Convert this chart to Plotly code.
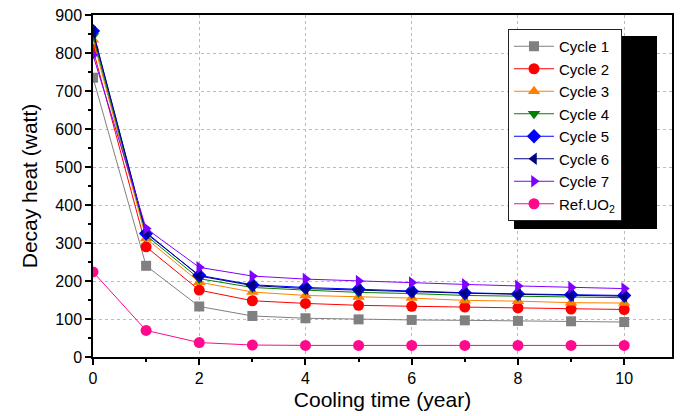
import plotly.graph_objects as go

years = [0, 1, 2, 3, 4, 5, 6, 7, 8, 9, 10]
cycle1 = [735, 240, 133, 108, 102, 99, 97.5, 96.5, 95, 94, 92]
cycle2 = [810, 290, 176, 148, 141, 136, 133.5, 131.5, 129, 126, 125]
cycle3 = [835, 312, 197, 171, 162, 158, 155, 149, 147, 143, 142]
cycle4 = [845, 320, 206, 183, 176, 170, 167, 162, 160, 158, 156]
cycle5 = [858, 325, 215, 190, 183, 178, 173, 169, 166, 164, 162]
cycle6 = [855, 328, 213, 188, 180, 176, 171, 168, 165, 162, 160]
cycle7 = [795, 338, 236, 213, 205, 200, 196, 191, 187, 183, 180]
ref_uo2 = [224, 70, 38, 31.5, 30.5, 30.5, 30.5, 30.5, 30.5, 30.5, 30.5]

names = ["Cycle 1", "Cycle 2", "Cycle 3", "Cycle 4", "Cycle 5", "Cycle 6", "Cycle 7", "Ref.UO<sub>2</sub>"]
series = [cycle1, cycle2, cycle3, cycle4, cycle5, cycle6, cycle7, ref_uo2]
colors = ["#808080", "#FF0000", "#FF8000", "#008000", "#0000FF", "#000080", "#8000FF", "#FF0A8C"]
symbols = ["square", "circle", "triangle-up", "triangle-down", "diamond", "triangle-left", "triangle-right", "circle"]

fig = go.Figure()
for n, s, c, m in zip(names, series, colors, symbols):
    fig.add_trace(go.Scatter(
        x=years, y=s, name=n, mode="lines+markers",
        line=dict(color=c, width=1),
        marker=dict(symbol=m, color=c, size=11 if m != "square" else 10, line=dict(width=0)),
    ))

L, R, T, B = 93, 9, 15, 59
W, H = 681, 416
pw, ph = W - L - R, H - T - B

def px(x):
    return (x - L) / pw

def py(y):
    return (H - B - y) / ph

fig.add_shape(type="rect", xref="paper", yref="paper",
              x0=px(514), x1=px(657), y0=py(229), y1=py(36),
              fillcolor="black", line=dict(width=0), layer="above")

font = "Liberation Sans, Arial, sans-serif"
fig.update_layout(
    width=W, height=H,
    margin=dict(l=L, r=R, t=T, b=B),
    paper_bgcolor="white", plot_bgcolor="white",
    font=dict(family=font, color="black"),
    legend=dict(
        x=px(508), y=py(29), xanchor="left", yanchor="top",
        bgcolor="white", bordercolor="#222222", borderwidth=1,
        font=dict(size=15, family=font), itemwidth=40, tracegroupgap=0,
    ),
    xaxis=dict(
        range=[0, 10.9], tickmode="linear", tick0=0, dtick=2,
        ticks="outside", ticklen=6, tickwidth=1.5, tickcolor="black",
        minor=dict(ticks="outside", ticklen=3, dtick=1, tick0=0, tickcolor="black", showgrid=False),
        showline=True, linecolor="black", linewidth=1.5, mirror=True,
        showgrid=True, gridcolor="#BBBBBB", griddash="dot", gridwidth=1,
        zeroline=False, automargin=False,
        tickfont=dict(size=16),
        title=dict(text="Cooling time (year)", font=dict(size=21), standoff=6),
    ),
    yaxis=dict(
        range=[0, 900], tickmode="linear", tick0=0, dtick=100,
        ticks="outside", ticklen=6, tickwidth=1.5, tickcolor="black",
        minor=dict(ticks="outside", ticklen=3, dtick=50, tick0=0, tickcolor="black", showgrid=False),
        showline=True, linecolor="black", linewidth=1.5, mirror=True,
        showgrid=True, gridcolor="#BBBBBB", griddash="dot", gridwidth=1,
        zeroline=False, automargin=False,
        tickfont=dict(size=16),
        title=dict(text="Decay heat (watt)", font=dict(size=21), standoff=12),
    ),
)

fig.write_html("out.html")
